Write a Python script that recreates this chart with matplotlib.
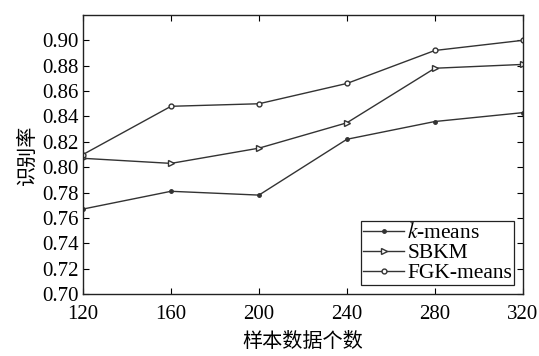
import matplotlib
matplotlib.use("Agg")
import matplotlib.pyplot as plt

plt.rcParams["font.family"] = ["Liberation Serif", "Noto Sans CJK SC"]
plt.rcParams["mathtext.fontset"] = "stix"

sample_sizes = [120, 160, 200, 240, 280, 320]
kmeans = [0.767, 0.781, 0.778, 0.822, 0.836, 0.843]
sbkm = [0.807, 0.803, 0.815, 0.835, 0.878, 0.881]
fgk = [0.810, 0.848, 0.850, 0.866, 0.892, 0.900]
yticks = [0.70, 0.72, 0.74, 0.76, 0.78, 0.80, 0.82, 0.84, 0.86, 0.88, 0.90]

LINE = "#333333"

fig = plt.figure(figsize=(5.39, 3.56), dpi=100)
ax = fig.add_axes([0.154, 0.174, 0.816, 0.784])

ax.plot(sample_sizes, kmeans, color=LINE, lw=1.0, marker=".", ms=5,
        label="$k$-means")
ax.plot(sample_sizes, sbkm, color=LINE, lw=1.0, marker=">", ms=5,
        mfc="white", mec=LINE, label="SBKM")
ax.plot(sample_sizes, fgk, color=LINE, lw=1.0, marker="o", ms=3.5,
        mfc="white", mec=LINE, label="FGK-means")

ax.set_xlim(120, 320)
ax.set_ylim(0.70, 0.92)
ax.set_xticks(sample_sizes)
ax.set_yticks(yticks)
ax.set_yticklabels([f"{v:.2f}" for v in yticks])
ax.tick_params(direction="in", top=True, right=True, labelsize=15,
               length=4, width=0.8)
ax.tick_params(axis="x", pad=8)
ax.tick_params(axis="y", pad=3)
for s in ax.spines.values():
    s.set_linewidth(1.0)
    s.set_color("#222222")

ax.set_xlabel("样本数据个数", fontsize=14.5, family=["Noto Sans CJK SC"], labelpad=5)
ax.set_ylabel("识别率", fontsize=14.5, family=["Noto Sans CJK SC"], labelpad=3)

leg = ax.legend(loc="lower right", fontsize=15.5, fancybox=False, framealpha=1,
                edgecolor="#222222", borderpad=0.1, labelspacing=0.0,
                handlelength=1.9, handletextpad=0.15, borderaxespad=0.4)
leg.get_frame().set_linewidth(0.9)

fig.savefig("out.png", dpi=100)
